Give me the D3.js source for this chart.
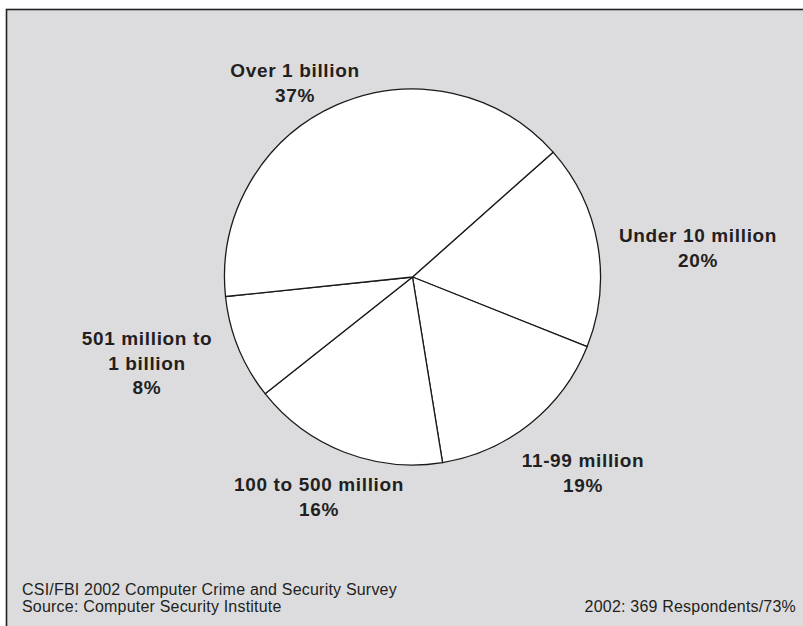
<!DOCTYPE html>
<html>
<head>
<meta charset="utf-8">
<script src="https://cdn.jsdelivr.net/npm/d3@7"></script>
<style>
  html, body { margin: 0; padding: 0; background: #ffffff; }
  svg { display: block; }
</style>
</head>
<body>
<script>
// ---- data ----
const categories = ["Under 10 million", "11-99 million", "100 to 500 million", "501 million to 1 billion", "Over 1 billion"];
const labelLines = [["Under 10 million"], ["11-99 million"], ["100 to 500 million"], ["501 million to", "1 billion"], ["Over 1 billion"]];
const percentLabels = ["20%", "19%", "16%", "8%", "37%"];
// slice sizes as drawn in the picture (share of the circle, %)
const drawnShares = [17.6, 16.4, 16.9, 9.0, 40.1];
const footerLeft = ["CSI/FBI 2002 Computer Crime and Security Survey", "Source: Computer Security Institute"];
const footerRight = "2002: 369 Respondents/73%";

// ---- layout ----
const W = 803, H = 626;
const cx = 412.5, cy = 277, R = 188;
const startDeg = 48.4;
const labelPos = [[698, 242], [583, 467], [319, 491], [147, 345], [295, 77]];
const lineGap = 24.5;

const svg = d3.select("body").append("svg").attr("width", W).attr("height", H);

svg.append("rect").attr("x", 6.5).attr("y", 9.5).attr("width", W).attr("height", H)
  .attr("fill", "#dcdcde").attr("stroke", "#222").attr("stroke-width", 1.6);

const data = categories.map((c, i) => ({ cat: c, v: drawnShares[i], i }));
const start = startDeg * Math.PI / 180;
const pie = d3.pie().value(d => d.v).sort(null).startAngle(start).endAngle(start + 2 * Math.PI);
const arc = d3.arc().innerRadius(0).outerRadius(R);

const g = svg.append("g").attr("transform", `translate(${cx},${cy})`);
g.selectAll("path").data(pie(data)).join("path")
  .attr("d", arc)
  .attr("fill", "#ffffff")
  .attr("stroke", "#1a1a1a")
  .attr("stroke-width", 1.3)
  .attr("stroke-linejoin", "round");

const font = "Liberation Sans, Arial, Helvetica, sans-serif";
const labels = svg.append("g")
  .attr("font-family", font).attr("font-weight", "bold").attr("font-size", 19)
  .attr("fill", "#231f20").attr("text-anchor", "middle").attr("letter-spacing", "0.65px");

data.forEach((d, i) => {
  const lines = labelLines[i].concat([percentLabels[i]]);
  const t = labels.append("text").attr("x", labelPos[i][0]).attr("y", labelPos[i][1]);
  lines.forEach((ln, k) => {
    t.append("tspan").attr("x", labelPos[i][0]).attr("y", labelPos[i][1] + k * lineGap).text(ln);
  });
});

const foot = svg.append("g").attr("font-family", font).attr("font-size", 16).attr("fill", "#231f20")
  .attr("letter-spacing", "0.2px");
footerLeft.forEach((s, k) => {
  foot.append("text").attr("x", 22).attr("y", 595 + k * 17).text(s);
});
foot.append("text").attr("x", 796).attr("y", 612).attr("text-anchor", "end").text(footerRight);
</script>
</body>
</html>
